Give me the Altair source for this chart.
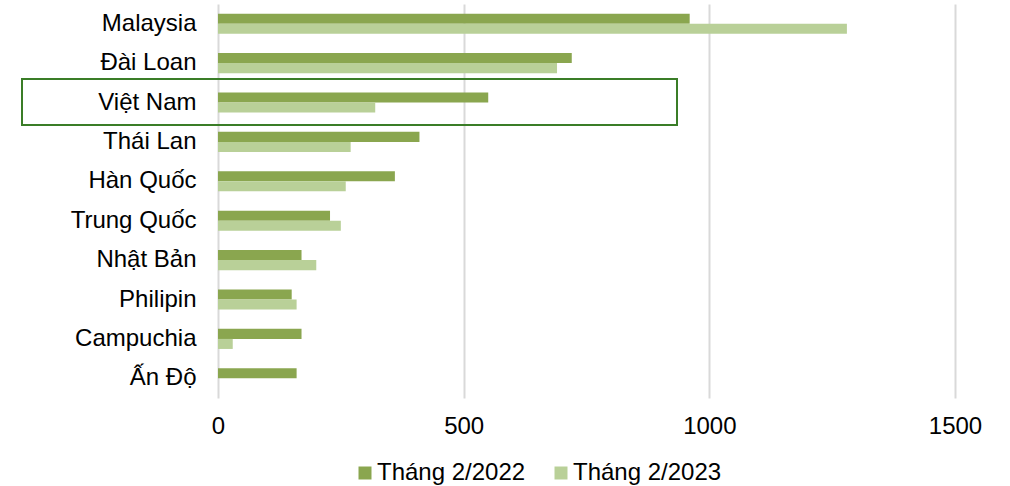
import altair as alt
import pandas as pd

countries = ["Malaysia", "Đài Loan", "Việt Nam", "Thái Lan", "Hàn Quốc",
             "Trung Quốc", "Nhật Bản", "Philipin", "Campuchia", "Ấn Độ"]
v2022 = [960, 720, 550, 410, 360, 228, 170, 150, 170, 160]
v2023 = [1280, 690, 320, 270, 260, 250, 200, 160, 30, 0]
series = ["Tháng 2/2022", "Tháng 2/2023"]
colors = ["#8aa64f", "#b9d098"]
ticks = [0, 500, 1000, 1500]

rows = []
for c, a, b in zip(countries, v2022, v2023):
    rows.append({"country": c, "series": series[0], "value": a})
    rows.append({"country": c, "series": series[1], "value": b})
df = pd.DataFrame(rows)

FONT = "Liberation Sans"

bars = alt.Chart(df).mark_bar().encode(
    y=alt.Y("country:N", sort=countries, title=None,
            scale=alt.Scale(paddingInner=0.49, paddingOuter=0.245),
            axis=alt.Axis(domain=False, ticks=False, grid=False, labelFontSize=24,
                          labelFont=FONT, labelColor="#000000", labelPadding=22)),
    yOffset=alt.YOffset("series:N", sort=series),
    x=alt.X("value:Q", title=None, scale=alt.Scale(domain=[0, 1500], nice=False),
            axis=alt.Axis(values=ticks, format="d", grid=True, gridColor="#d9d9d9",
                          gridWidth=2, domain=False, ticks=False, labelFontSize=24,
                          labelFont=FONT, labelColor="#000000", labelPadding=16,
                          labelFlush=False)),
    color=alt.Color("series:N", sort=series,
                    scale=alt.Scale(domain=series, range=colors),
                    legend=alt.Legend(title=None, orient="none", direction="horizontal",
                                      legendX=135, legendY=457, symbolType="square",
                                      symbolSize=169, symbolStrokeWidth=0,
                                      labelFontSize=24, labelFont=FONT,
                                      labelColor="#000000", labelOffset=0,
                                      columnPadding=23)),
)

box = alt.Chart(pd.DataFrame({"k": [0]})).mark_rect(
    fill="transparent", stroke="#3a7d27", strokeWidth=2
).encode(
    x=alt.value(-196), x2=alt.value(459), y=alt.value(75), y2=alt.value(121)
)

chart = alt.layer(bars, box).properties(
    width=737, height=394,
    autosize=alt.AutoSizeParams(type="none"),
    padding={"left": 218, "top": 4, "right": 55, "bottom": 88},
).configure_view(stroke=None)

chart.save("out.html", embed_options={"renderer": "svg", "actions": False})
